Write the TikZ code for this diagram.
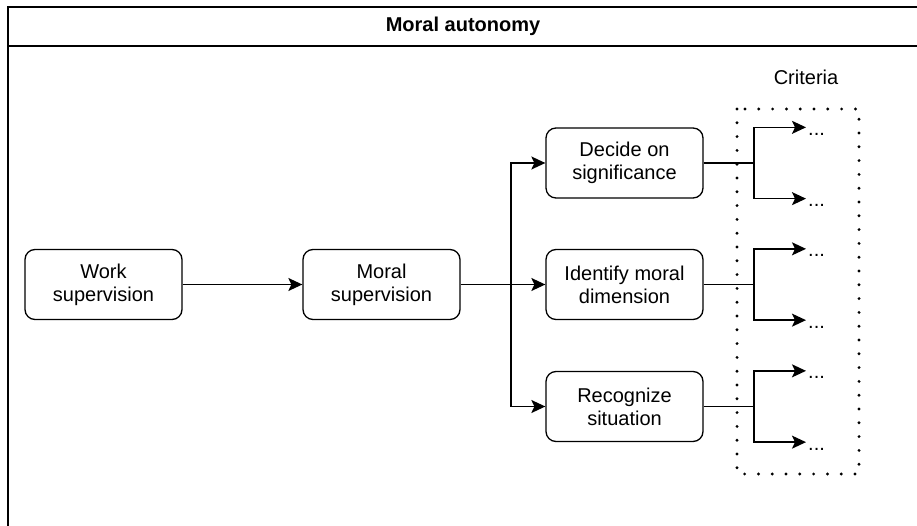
\documentclass[tikz,border=0pt]{standalone}
\usepackage{fontspec}
\setmainfont{Liberation Sans}
\usetikzlibrary{arrows.meta}
\begin{document}
\begin{tikzpicture}[x=1pt,y=-1pt,
  box/.style={draw, line width=1.3pt, rounded corners=10pt,
    minimum width=157pt, minimum height=70pt, align=center,
    font=\fontsize{20}{23}\selectfont, inner sep=2pt},
  link/.style={line width=1.5pt, -{Stealth[length=14pt,width=13pt,inset=3pt]}},
  plain/.style={line width=1.5pt},
  frameline/.style={line width=1.8pt},
  dotlbl/.style={anchor=base west, inner sep=0pt, font=\fontsize{20}{23}\selectfont},
  group/.style={line width=3.2pt, line cap=round, dash pattern=on 0pt off 13.8pt}]
\useasboundingbox (0,0) rectangle (917,526);

% swimlane frame and header
\draw[frameline] (8,526) -- (8,7) -- (917,7);
\draw[frameline] (8,46) -- (917,46);
\node[font=\fontsize{20}{23}\selectfont\bfseries] (title) at (463,26.5) {Moral autonomy};

% criteria group
\draw[group] (737,109) rectangle (859,474);
\node[font=\fontsize{20}{23}\selectfont] (crit) at (806,77) {Criteria};

% process boxes
\node[box] (ws) at (103.5,284.5) {Work\\supervision};
\node[box] (ms) at (381.5,284.5) {Moral\\supervision};
\node[box] (dec) at (624.5,163) {Decide on\\significance};
\node[box] (idm) at (624.5,284.5) {Identify moral\\dimension};
\node[box] (rec) at (624.5,406.5) {Recognize\\situation};

\draw[link] (ws) -- (ms);

% fan-out to the three steps
\coordinate (j) at (511,284.5);
\draw[link] (ms.east) -- (idm.west);
\draw[link] (j) |- (dec.west);
\draw[link] (j) |- (rec.west);

% criteria branches
\foreach \b/\n in {dec/1, idm/2, rec/3}{
  \coordinate (s\n) at (754,0 |- \b.east);
  \coordinate (t\n) at (806,0 |- \b.north);
  \coordinate (u\n) at (806,0 |- \b.south);
  \draw[plain] (\b.east) -- (s\n);
  \draw[link] (s\n) |- (t\n);
  \draw[link] (s\n) |- (u\n);
  \node[dotlbl] (ta\n) at ([xshift=2pt,yshift=-8pt]t\n) {...};
  \node[dotlbl] (ua\n) at ([xshift=2pt,yshift=-8pt]u\n) {...};
}
\end{tikzpicture}
\end{document}
